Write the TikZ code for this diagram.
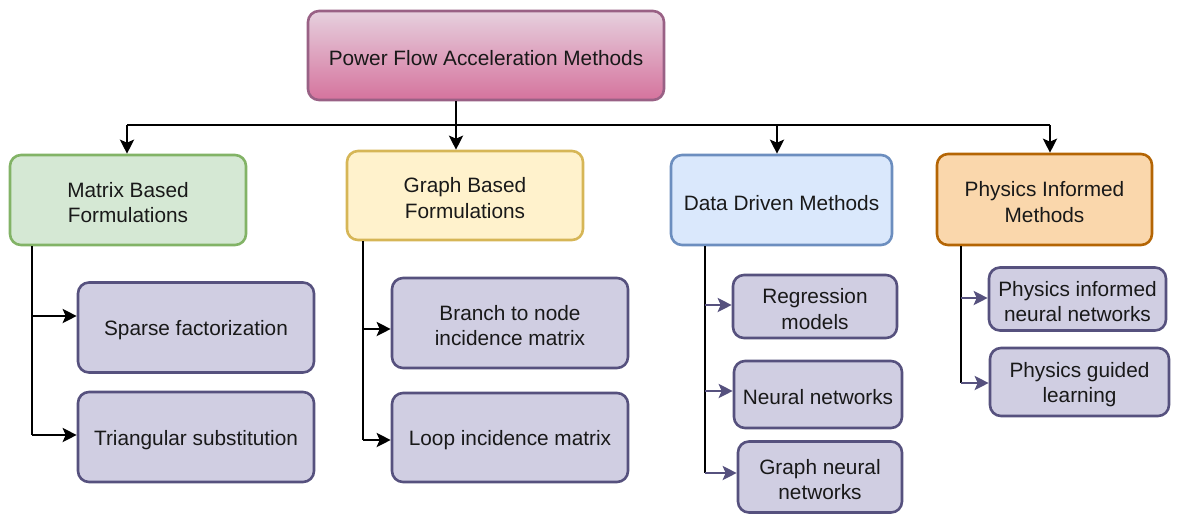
\documentclass[tikz,border=0pt]{standalone}
\usepackage{fontspec}
\setmainfont{Liberation Sans}
\usetikzlibrary{arrows.meta,calc}
\definecolor{rootTop}{HTML}{E6D0DE}
\definecolor{rootBot}{HTML}{D5739D}
\definecolor{rootLine}{HTML}{996185}
\definecolor{gFill}{HTML}{D5E8D4}
\definecolor{gLine}{HTML}{82B366}
\definecolor{yFill}{HTML}{FFF2CC}
\definecolor{yLine}{HTML}{D6B656}
\definecolor{bFill}{HTML}{DAE8FC}
\definecolor{bLine}{HTML}{6C8EBF}
\definecolor{oFill}{HTML}{FAD7AC}
\definecolor{oLine}{HTML}{B46504}
\definecolor{pFill}{HTML}{D0CEE2}
\definecolor{pLine}{HTML}{56517E}
\newcommand{\topstrut}{\rule{0pt}{20.5pt}}
\tikzset{
  box/.style={rounded corners=11pt, line width=2.6pt, align=center, inner sep=2pt,
    font=\fontsize{20.8}{25.5}\selectfont, text=black!90},
  child/.style={box, fill=pFill, draw=pLine},
  conn/.style={line width=2.6pt, black},
  arr/.style={conn, -{Stealth[length=14pt,width=14pt,inset=3pt]}},
  parr/.style={line width=2.6pt, pLine, -{Stealth[length=14pt,width=14pt,inset=3pt]}},
}
\begin{document}
\begin{tikzpicture}[x=1pt,y=-1pt]
\useasboundingbox (0,0) rectangle (1179,523);
% root
\node[box, draw=rootLine, top color=rootTop, bottom color=rootBot, minimum width=356pt, minimum height=89pt] (root) at (486,55.5) {\topstrut Power Flow Acceleration Methods};
% level 1
\node[box, fill=gFill, draw=gLine, minimum width=236pt, minimum height=90pt] (mat) at (128,200) {\topstrut Matrix Based\\Formulations};
\node[box, fill=yFill, draw=yLine, minimum width=236pt, minimum height=89pt] (gra) at (465,195.5) {\topstrut Graph Based\\Formulations};
\node[box, fill=bFill, draw=bLine, minimum width=221pt, minimum height=90pt] (dat) at (781.5,200) {\topstrut Data Driven Methods};
\node[box, fill=oFill, draw=oLine, minimum width=215pt, minimum height=91pt] (phy) at (1044.5,199.5) {\topstrut Physics Informed\\Methods};
% children
\node[child, minimum width=236pt, minimum height=90pt] (sp) at (196,327.5) {\topstrut Sparse factorization};
\node[child, minimum width=236pt, minimum height=90pt] (tri) at (196,437) {\topstrut Triangular substitution};
\node[child, minimum width=236pt, minimum height=90pt] (bn) at (510,323) {\topstrut Branch to node\\incidence matrix};
\node[child, minimum width=236pt, minimum height=89pt] (loop) at (510,437.5) {\topstrut Loop incidence matrix};
\node[child, minimum width=164pt, minimum height=63pt] (reg) at (815,306.5) {\topstrut Regression\\models};
\node[child, minimum width=168pt, minimum height=67pt] (nn) at (818,394.5) {\topstrut Neural networks};
\node[child, minimum width=164pt, minimum height=71pt] (gnn) at (820,477) {\topstrut Graph neural\\networks};
\node[child, minimum width=177pt, minimum height=63pt] (pinn) at (1077.5,299) {\topstrut Physics informed\\neural networks};
\node[child, minimum width=179pt, minimum height=68pt] (pg) at (1079.5,382) {\topstrut Physics guided\\learning};
% bus
\coordinate (b1) at (127,125);
\coordinate (b2) at (456,125);
\coordinate (b3) at (777,125);
\coordinate (b4) at (1050,125);
\draw[conn] (b1) -- (b4);
\draw[arr] (root.south -| b2) -- (b2 |- gra.north);
\draw[arr] (b1) -- (b1 |- mat.north);
\draw[arr] (b3) -- (b3 |- dat.north);
\draw[arr] (b4) -- (b4 |- phy.north);
% column 1
\coordinate (a11) at (32,316);
\coordinate (a12) at (32,435);
\draw[conn] (mat.south -| a11) -- (a12);
\draw[arr] (a11) -- (a11 -| sp.west);
\draw[arr] (a12) -- (a12 -| tri.west);
% column 2
\coordinate (a21) at (363,329);
\coordinate (a22) at (363,440);
\draw[conn] (gra.south -| a21) -- (a22);
\draw[arr] (a21) -- (a21 -| bn.west);
\draw[arr] (a22) -- (a22 -| loop.west);
% column 3
\coordinate (a31) at (705,305);
\coordinate (a32) at (705,391);
\coordinate (a33) at (705,473);
\draw[conn] (dat.south -| a31) -- (a33);
\draw[parr] (a31) -- (a31 -| reg.west);
\draw[parr] (a32) -- (a32 -| nn.west);
\draw[parr] (a33) -- (a33 -| gnn.west);
% column 4
\coordinate (a41) at (961,298);
\coordinate (a42) at (961,383);
\draw[conn] (phy.south -| a41) -- (a42);
\draw[parr] (a41) -- (a41 -| pinn.west);
\draw[parr] (a42) -- (a42 -| pg.west);
\end{tikzpicture}
\end{document}
